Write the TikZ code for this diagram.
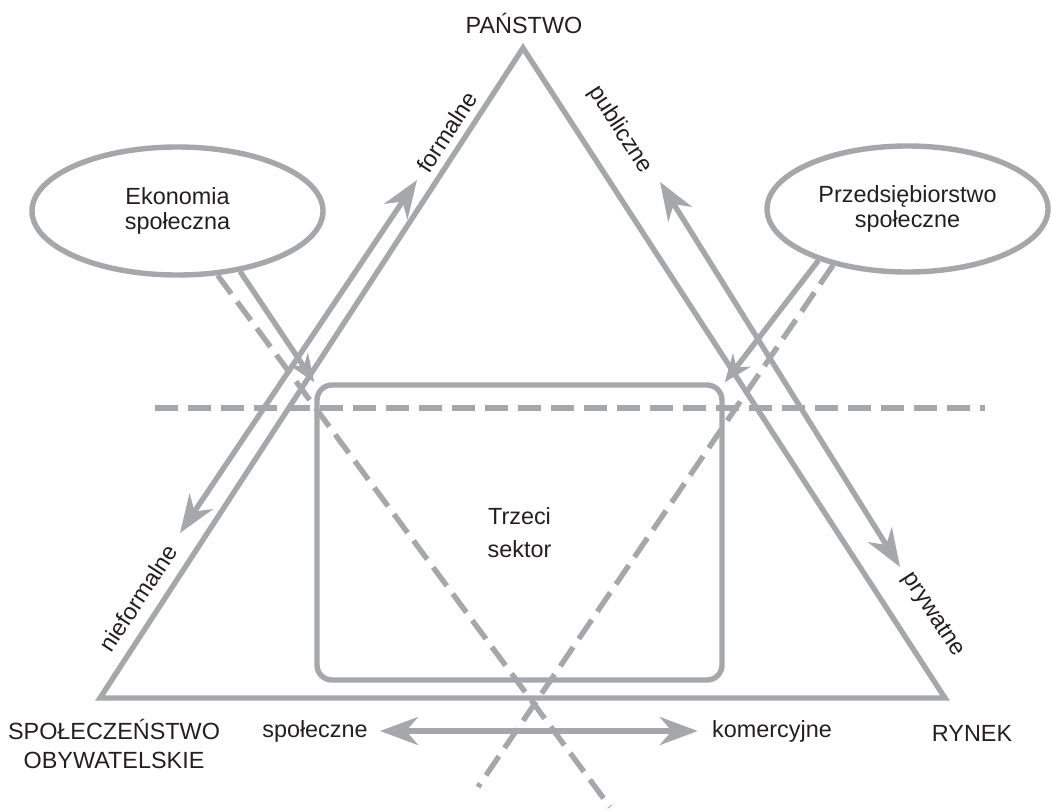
\documentclass[tikz,border=0pt]{standalone}
\usepackage{fontspec}
\setmainfont{Liberation Sans}
\usetikzlibrary{arrows.meta,shapes.geometric}
\definecolor{szary}{RGB}{166,167,171}
\definecolor{tekst}{RGB}{35,31,32}

\begin{document}
\begin{tikzpicture}[x=0.5pt,y=-0.5pt]
\tikzstyle{linia}=[draw=szary,line width=2.7pt]
\tikzstyle{kreski}=[linia,dash pattern=on 11.5pt off 5pt]
\tikzstyle{grot}=[linia,{Stealth[length=19pt,width=14pt,inset=6pt]}-{Stealth[length=19pt,width=14pt,inset=6pt]}]
\tikzstyle{grotm}=[linia,-{Stealth[length=14pt,width=11pt,inset=4.5pt]}]
\tikzstyle{napis}=[text=tekst,font=\fontsize{11.7}{14.2}\selectfont]
\tikzstyle{owal}=[ellipse,linia,napis,align=center,font=\fontsize{11.7}{12.5}\selectfont]
\useasboundingbox (0,0) rectangle (1053,809);

\draw[linia,line join=miter] (523,48) -- (945,698) -- (100,698) -- cycle;
\node (1) at (177.5,211) [owal,minimum width=145.5pt,minimum height=64pt]{Ekonomia\\społeczna};
\node (2) at (907.5,209) [owal,minimum width=140.5pt,minimum height=63pt]{Przedsiębiorstwo\\społeczne};
\node (3) at (519.5,532.5) [linia,napis,rounded corners=7.5pt,minimum width=202.5pt,minimum height=147.5pt,align=center]{Trzeci\\[2pt]sektor};
\coordinate (4) at (610,807);
\coordinate (5) at (478,787);
\coordinate (6) at (155,408);
\coordinate (7) at (985,408);
\coordinate (8) at (180,533);
\coordinate (9) at (417,180);
\coordinate (10) at (660,182);
\coordinate (11) at (900,567);
\node (12) at (524,23) [napis]{PAŃSTWO};
\node (13) at (114,744) [napis,align=center]{SPOŁECZEŃSTWO\\OBYWATELSKIE};
\node (14) at (972,733) [napis]{RYNEK};
\node (15) at (315,731) [napis,inner xsep=6pt]{społeczne};
\node (16) at (772,731) [napis,inner xsep=7pt]{komercyjne};
\node (17) at (447,132) [napis,rotate=57]{formalne};
\node (18) at (620,130) [napis,rotate=-57]{publiczne};
\node (19) at (138,598) [napis,rotate=57]{nieformalne};
\node (20) at (933,615) [napis,rotate=-57]{prywatne};

\draw[kreski] (6) -- (7);
\draw[kreski] (1.-58) -- (4);
\draw[kreski] (2.-143) -- (5);
\draw[grotm] (1.-44) -- (3.north west);
\draw[grotm] (2.-150) -- (3.north east);
\draw[grot] (8) -- (9);
\draw[grot] (10) -- (11);
\draw[grot] (15) -- (16);
\end{tikzpicture}
\end{document}
